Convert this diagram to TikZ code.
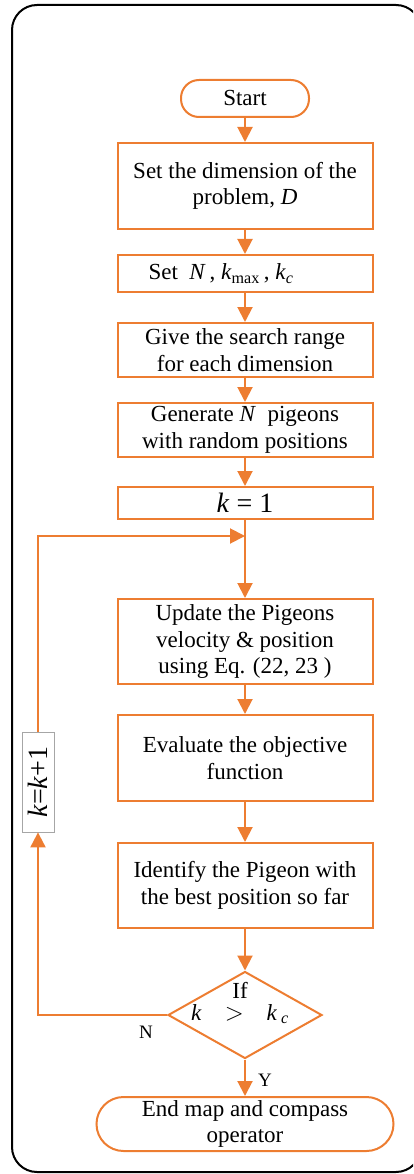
\documentclass[tikz,border=0pt]{standalone}
\usepackage{fontspec}
\setmainfont{Liberation Serif}
\usetikzlibrary{shapes.geometric, arrows.meta}
\definecolor{flow}{HTML}{ED7D31}

\begin{document}
\begin{tikzpicture}[x=1pt, y=1pt,
        block/.style={draw=flow, line width=2pt, minimum width=255pt, inner sep=0pt,
            align=center, font=\fontsize{23}{26.5}\selectfont},
        terminal/.style={block, rounded corners=18pt},
        decision/.style={diamond, draw=flow, line width=2pt, minimum width=154pt,
            minimum height=87pt, inner sep=0pt},
        flowline/.style={draw=flow, line width=2pt, -{Triangle[length=15pt, width=15pt]}},
        tag/.style={font=\fontsize{19}{22}\selectfont}]

        \path[use as bounding box, clip] (0,0) rectangle (413,-1174);

        % Frame
        \draw[line width=2pt, rounded corners=25pt] (12,-5) rectangle (421,-1172);

        % Steps
        \node[terminal, minimum width=128pt, minimum height=37pt] (start) at (245,-98.5) {Start};
        \node[block, minimum height=86pt] (dim) at (245,-186) {Set the dimension of the\\problem, \textit{D}};
        \node[block, minimum height=37pt] (param) at (245,-273.5)
            {Set\ \ \textit{N}\,, \textit{k}\textsubscript{max}\,, \textit{k}\textsubscript{\textit{c}}\hspace*{48pt}};
        \node[block, minimum height=54pt] (range) at (245,-350) {Give the search range\\for each dimension};
        \node[block, minimum height=54pt] (gen) at (245,-430) {Generate \textit{N}\ \ pigeons\\with random positions};
        \node[block, minimum height=32pt, font=\fontsize{28}{30}\selectfont] (init) at (245,-503) {\textit{k} = 1};
        \node[block, minimum height=85pt] (update) at (245,-641.5)
            {Update the Pigeons\\velocity \& position\\using Eq. (22, 23 )};
        \node[block, minimum height=86pt] (eval) at (245,-758) {Evaluate the objective\\function};
        \node[block, minimum height=85pt] (best) at (245,-885.5) {Identify the Pigeon with\\the best position so far};

        % Test
        \node[decision] (check) at (245,-1015) {};
        \node[align=center, font=\fontsize{23}{22}\selectfont] (cond) at (240,-1003)
            {If\\\textit{k}\quad$>$\quad\textit{k}\,\textsubscript{\textit{c}}};

        \node[terminal, rounded corners=27pt, minimum width=297pt, minimum height=54pt] (finish) at (245,-1124)
            {End map and compass\\operator};

        % Counter
        \node[draw=gray!70, line width=0.8pt, rotate=90, minimum width=100pt, minimum height=32pt,
            inner sep=0pt, fill=white, font=\fontsize{28}{30}\selectfont] (incr) at (38,-782)
            {\textit{k}=\textit{k}+1};
        \coordinate (join) at (245,-536);

        \foreach \a/\b in {start/dim, dim/param, param/range, range/gen, init/update,
                update/eval, eval/best, best/check, check/finish}
            {
                \draw[flowline] (\a) -- (\b);
            }
        \draw[flowline] (gen) -- (init);

        % Loop back
        \draw[flowline] (check.west) -| (incr.west);
        \draw[flowline] (incr.east) |- (join);

        \node[tag] (no) at (146,-1032) {N};
        \node[tag] (yes) at (265,-1080) {Y};

    \end{tikzpicture}
\end{document}
